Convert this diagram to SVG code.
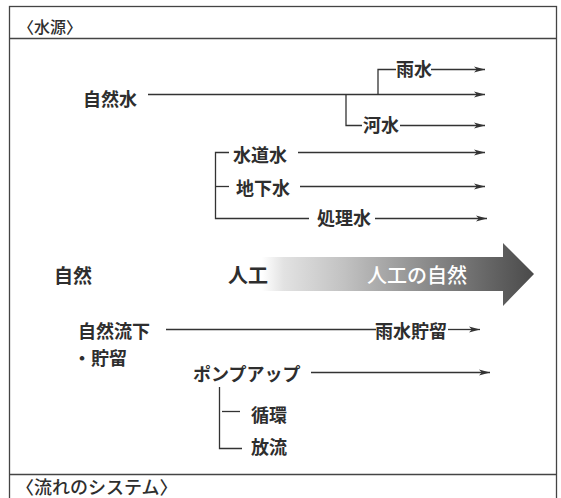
<svg xmlns="http://www.w3.org/2000/svg" width="561" height="498" viewBox="0 0 561 498">
<style>
text{font-family:"Noto Sans CJK JP","Noto Sans CJK SC",sans-serif;font-size:18px;font-weight:700;fill:#2e2e2e}
.big{font-size:20px}
.hd{font-size:16px;font-weight:500}
.ft{font-size:18px;font-weight:500}
.ln{stroke:#333;stroke-width:1.3;fill:none}
.ar{stroke:#333;stroke-width:1.3;fill:none;marker-end:url(#ah)}
</style>
<defs>
<marker id="ah" viewBox="0 0 11 7" refX="11" refY="3.5" markerWidth="11" markerHeight="7" markerUnits="userSpaceOnUse" orient="auto">
<path d="M0,0.6 L11,3.5 L0,6.4 L2.8,3.5 Z" fill="#333"/>
</marker>
<linearGradient id="g" gradientUnits="userSpaceOnUse" x1="262" y1="0" x2="534" y2="0">
<stop offset="0" stop-color="#ffffff"/>
<stop offset="0.08" stop-color="#e2e2e2"/>
<stop offset="0.3" stop-color="#c2c2c2"/>
<stop offset="0.6" stop-color="#8c8c8c"/>
<stop offset="1" stop-color="#4a4a4a"/>
</linearGradient>
</defs>
<g id="frame">
<rect x="9.5" y="6.5" width="547" height="520" fill="none" stroke="#444" stroke-width="1.3"/>
<line x1="9.5" y1="38.5" x2="556.5" y2="38.5" stroke="#444" stroke-width="1.3"/>
<line x1="9.5" y1="474.5" x2="556.5" y2="474.5" stroke="#444" stroke-width="1.3"/>
</g>
<g id="big-arrow">
<path d="M262,257 L503,257 L503,243 L534,274 L503,306 L503,291 L262,291 Z" fill="url(#g)"/>
</g>
<g id="connectors">
<line class="ar" x1="148" y1="94.5" x2="485" y2="94.5"/>
<polyline class="ln" points="378,94.5 378,69.5 396,69.5"/>
<line class="ar" x1="431" y1="69.5" x2="485" y2="69.5"/>
<polyline class="ln" points="346,94.5 346,125.5 362,125.5"/>
<line class="ar" x1="400" y1="125.5" x2="485" y2="125.5"/>
<polyline class="ln" points="229,152.5 215.5,152.5 215.5,218.5 309,218.5"/>
<line class="ln" x1="215.5" y1="186.5" x2="229" y2="186.5"/>
<line class="ar" x1="298" y1="152.5" x2="485" y2="152.5"/>
<line class="ar" x1="300" y1="186.5" x2="485" y2="186.5"/>
<line class="ar" x1="375" y1="218.5" x2="487" y2="218.5"/>
<line class="ln" x1="166" y1="329.5" x2="376" y2="329.5"/>
<line class="ar" x1="448" y1="329.5" x2="480" y2="329.5"/>
<line class="ar" x1="311" y1="372.5" x2="490" y2="372.5"/>
<polyline class="ln" points="219.5,387 219.5,448.5 242,448.5"/>
<line class="ln" x1="222" y1="411.5" x2="240" y2="411.5"/>
</g>
<g id="header"><text class="hd" x="18" y="33">〈水源〉</text></g>
<g id="footer"><text class="ft" x="16" y="494">〈流れのシステム〉</text></g>
<g id="n-shizensui"><text x="83" y="105.5">自然水</text></g>
<g id="n-usui"><text x="396" y="75.5">雨水</text></g>
<g id="n-kasui"><text x="363" y="132">河水</text></g>
<g id="n-suidousui"><text x="233" y="161.5">水道水</text></g>
<g id="n-chikasui"><text x="236" y="194.5">地下水</text></g>
<g id="n-shorisui"><text x="317" y="225">処理水</text></g>
<g id="n-shizen"><text class="big" x="54" y="282.5" style="font-size:19px">自然</text></g>
<g id="n-jinkou"><text class="big" x="228" y="282.5">人工</text></g>
<g id="n-jinkounoshizen"><text class="big" x="367" y="282.5" style="fill:#fff;font-weight:500">人工の自然</text></g>
<g id="n-shizenryuka"><text x="78" y="338">自然流下</text></g>
<g id="n-chozou"><text x="73" y="365">・貯留</text></g>
<g id="n-usuichoryu"><text x="375" y="338">雨水貯留</text></g>
<g id="n-pump"><text x="193" y="381">ポンプアップ</text></g>
<g id="n-junkan"><text x="251" y="422">循環</text></g>
<g id="n-houryu"><text x="251" y="454">放流</text></g>
</svg>
